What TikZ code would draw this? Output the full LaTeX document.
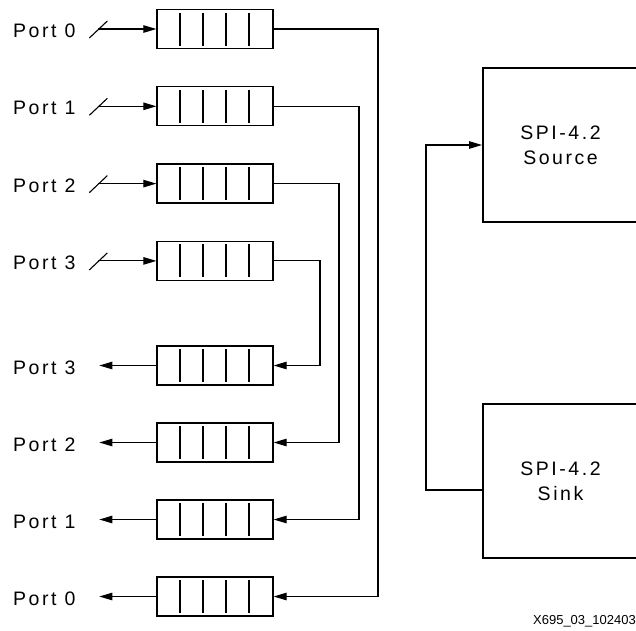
\documentclass[tikz,border=0pt]{standalone}
\usepackage{fontspec}
\setmainfont{Liberation Sans}[LetterSpace=13]
\newfontfamily\tagfont{Liberation Sans}
\usetikzlibrary{arrows.meta}
\usetikzlibrary{calc}

\tikzset{
	fifo/.style={draw, line width=1.3pt, minimum width=116pt, minimum height=39pt, inner sep=0pt,
		path picture={\foreach \k in {1,...,4} \draw[line width=1.1pt] ([xshift=\k*23pt, yshift=-3pt]path picture bounding box.north west) -- ([xshift=\k*23pt, yshift=3pt]path picture bounding box.south west);}},
	spibox/.style={draw, line width=2pt, minimum width=155pt, minimum height=154pt, align=center, inner sep=0pt, font=\fontsize{19.5}{25}\selectfont},
	wire/.style={line width=1.1pt},
	tip/.style={-{Triangle[length=13pt,width=7.5pt]}},
	portlbl/.style={anchor=west, inner sep=0pt, font=\fontsize{19.5}{22}\selectfont}
}

\begin{document}
\begin{tikzpicture}[x=1pt, y=-1pt]
	\clip (0,0) rectangle (636,630);
	% ingress and egress fifos, loopback wires
	\foreach \p/\vx in {0/378, 1/359, 2/339, 3/320}{
		\node[fifo] (in\p) at (215, 29+77.3*\p) {};
		\node[fifo] (out\p) at (215, 596.5-77*\p) {};
		\node[portlbl] (inlbl\p) at (13, 31+77.3*\p) {Port \p};
		\node[portlbl] (outlbl\p) at (13, 598.5-77*\p) {Port \p};
		\coordinate (slash\p) at ($(in\p.west)+(-58,0)$);
		\coordinate (outend\p) at ($(out\p.west)+(-57,0)$);
		\draw[wire] ($(slash\p)+(-9,9)$) -- ($(slash\p)+(9,-8)$);
		\draw[wire, tip] (slash\p) -- (in\p.west);
		\draw[wire, tip] (out\p.west) -- (outend\p);
		\draw[wire, tip] (in\p.east) -| (\vx, 300) |- (out\p.east);
	}
	% spi-4.2 cores
	\node[spibox] (src) at (560.5, 145) {SPI-4.2\\Source};
	\node[spibox] (snk) at (560.5, 481) {SPI-4.2\\Sink};
	\draw[wire, tip] ([yshift=-9pt]snk.west) -| (426, 300) |- (src.west);
	\node[anchor=base east, inner sep=0pt, font=\tagfont\fontsize{13}{15}\selectfont] (tag) at (636, 624) {X695\_03\_102403};
\end{tikzpicture}
\end{document}
